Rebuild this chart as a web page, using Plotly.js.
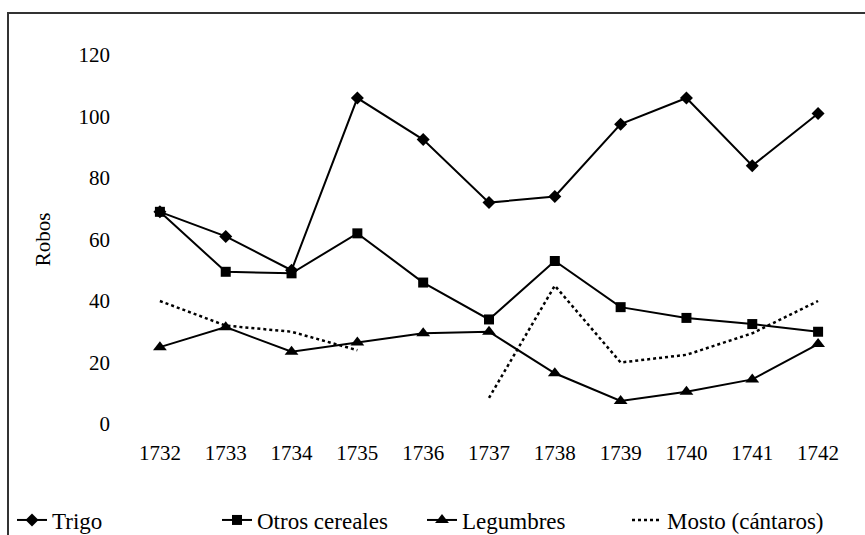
<!DOCTYPE html>
<html>
<head>
<meta charset="utf-8">
<script src="https://cdn.plot.ly/plotly-3.0.1.min.js"></script>
<style>html,body{margin:0;padding:0;background:#fff;}#chart{width:865px;height:535px;}</style>
</head>
<body>
<div id="chart"></div>
<script>
const years = [1732, 1733, 1734, 1735, 1736, 1737, 1738, 1739, 1740, 1741, 1742];
const trigo = [69, 61, 50, 106, 92.5, 72, 74, 97.5, 106, 84, 101];
const otrosCereales = [69, 49.5, 49, 62, 46, 34, 53, 38, 34.5, 32.5, 30];
const legumbres = [25, 31.5, 23.5, 26.5, 29.5, 30, 16.5, 7.5, 10.5, 14.5, 26];
const mosto = [40, 32, 30, 24, null, 8.5, 45, 20, 22.5, 29.5, 40];
const yTicks = [0, 20, 40, 60, 80, 100, 120];

const serif = '"Liberation Serif", "DejaVu Serif", serif';
const traces = [
  {x: years, y: trigo, name: 'Trigo', mode: 'lines+markers',
   line: {color: '#000', width: 2}, marker: {symbol: 'diamond', size: 10, color: '#000'}},
  {x: years, y: otrosCereales, name: 'Otros cereales', mode: 'lines+markers',
   line: {color: '#000', width: 2}, marker: {symbol: 'square', size: 10, color: '#000'}},
  {x: years, y: legumbres, name: 'Legumbres', mode: 'lines+markers',
   line: {color: '#000', width: 2}, marker: {symbol: 'triangle-up', size: 12, color: '#000'}},
  {x: years, y: mosto, name: 'Mosto (cántaros)', mode: 'lines', connectgaps: false,
   line: {color: '#000', width: 2.5, dash: 'dot'}}
];

const L = 127, R = 14, T = 55, B = 111;
const W = 865 - L - R, H = 535 - T - B;

const layout = {
  width: 865, height: 535,
  margin: {l: L, r: R, t: T, b: B, autoexpand: false},
  paper_bgcolor: '#fff', plot_bgcolor: '#fff',
  font: {family: serif, size: 21, color: '#000'},
  showlegend: true,
  legend: {orientation: 'h', x: (12 - L) / W, xanchor: 'left', y: (T + H - 520) / H, yanchor: 'middle',
           entrywidth: 160, entrywidthmode: 'pixels', itemwidth: 30,
           font: {family: serif, size: 23, color: '#000'}, bgcolor: 'rgba(0,0,0,0)', traceorder: 'normal'},
  xaxis: {range: [1731.5, 1742.5], tickmode: 'array', tickvals: years, ticktext: years.map(String),
          showgrid: false, zeroline: false, showline: false, ticks: '', ticklabelstandoff: 14,
          tickfont: {family: serif, size: 21}, fixedrange: true, automargin: false},
  yaxis: {range: [0, 120], tickmode: 'array', tickvals: yTicks, ticktext: yTicks.map(String),
          showgrid: false, zeroline: false, showline: false, ticks: '', ticklabelstandoff: 16,
          tickfont: {family: serif, size: 21}, automargin: false,
          title: {text: 'Robos', standoff: 22, font: {family: serif, size: 21}}, fixedrange: true},
  shapes: [{type: 'rect', xref: 'paper', yref: 'paper',
            x0: (8 - L) / W, x1: (880 - L) / W, y0: (T + H - 560) / H, y1: (T + H - 13) / H,
            line: {color: '#333', width: 2}, fillcolor: 'rgba(0,0,0,0)', layer: 'below'}]
};

Plotly.newPlot('chart', traces, layout, {displayModeBar: false, staticPlot: true});
</script>
</body>
</html>
